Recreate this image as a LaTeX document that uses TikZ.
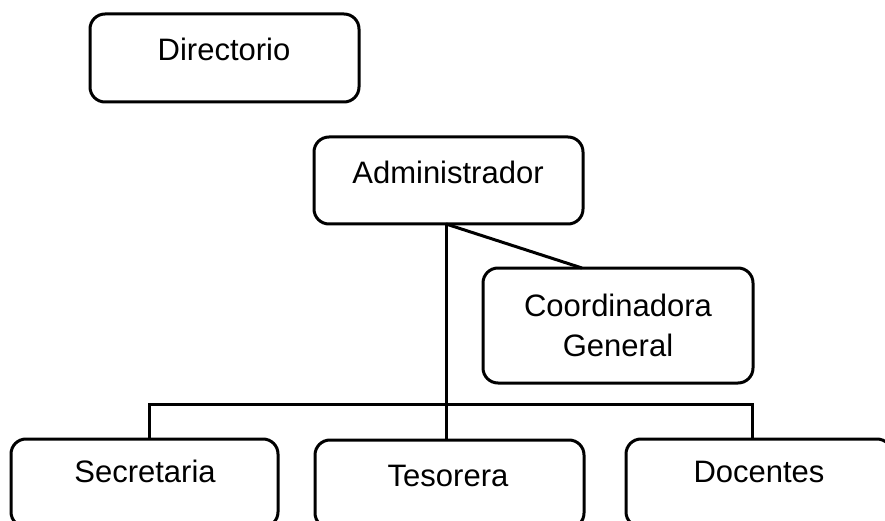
\documentclass[tikz,border=0pt]{standalone}
\usepackage{fontspec}
\setmainfont{Liberation Sans}
\begin{document}
\begin{tikzpicture}[x=1pt,y=-1pt,
  box/.style={draw=black,line width=3pt,rounded corners=15pt,inner sep=0pt,fill=white},
  lbl/.style={anchor=base,inner sep=0pt,font=\fontsize{31}{38}\selectfont},
  conn/.style={draw=black,line width=3pt}]
\useasboundingbox (0,0) rectangle (885,521);
\clip (0,0) rectangle (885,521);
% boxes
\node[box,minimum width=269pt,minimum height=88pt] (dir) at (224.5,58) {};
\node[box,minimum width=269pt,minimum height=87pt] (adm) at (448.5,180.5) {};
\node[box,minimum width=270pt,minimum height=115pt] (coo) at (618,325.5) {};
\node[box,minimum width=267pt,minimum height=88pt] (sec) at (144.5,483) {};
\node[box,minimum width=269pt,minimum height=88pt] (tes) at (449.5,484) {};
\node[box,minimum width=266pt,minimum height=88pt] (doc) at (759,483) {};
% labels
\node[lbl] (tdir) at (224,60.5) {Directorio};
\node[lbl] (tadm) at (448,184) {Administrador};
\node[lbl] (tcoo1) at (618,316.5) {Coordinadora};
\node[lbl] (tcoo2) at (618,356) {General};
\node[lbl] (tsec) at (145,482.5) {Secretaria};
\node[lbl] (ttes) at (448,486.5) {Tesorera};
\node[lbl] (tdoc) at (759,482.5) {Docentes};
% connector points
\coordinate (a1) at (446,224);
\coordinate (c1) at (582,268);
\coordinate (s1) at (149,439);
\coordinate (d1) at (752,439);
\coordinate (busL) at (149,404);
\coordinate (busR) at (752,404);
% connectors
\draw[conn] (a1) -- (a1 |- tes.north);
\draw[conn] (a1) -- (c1);
\draw[conn] (s1) -- (busL) -- (busR) -- (d1);
\end{tikzpicture}
\end{document}
